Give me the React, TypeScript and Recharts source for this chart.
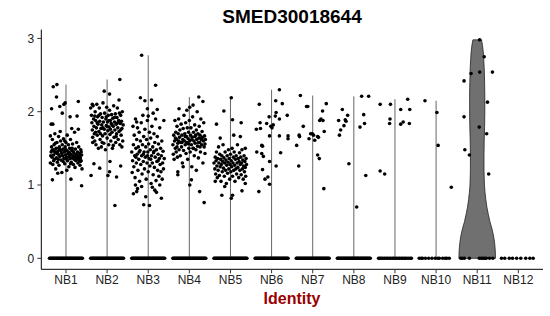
import React from 'react';
import { ScatterChart, Scatter, XAxis, YAxis } from 'recharts';

const categories = ['NB1', 'NB2', 'NB3', 'NB4', 'NB5', 'NB6', 'NB7', 'NB8', 'NB9', 'NB10', 'NB11', 'NB12'];
const yTicks = [0, 1, 2, 3];

// non-zero expression values per identity: [jitter offset, value]
const nb1Points: number[][] = [
  [-0.22, 2.37], [-0.31, 2.34], [-0.23, 2.2], [-0.35, 2.04], [-0.05, 2.1], [-0.02, 2.12], [0.3, 2.14], [-0.09, 1.98], [0.27, 1.94], [-0.36, 1.83], [-0.32, 1.83], [0.38, 0.99], [-0.33, 1.07], [0.12, 1.08], [-0.15, 2.07], [0.1, 1.93],
  [-0.38, 1.3], [-0.36, 1.45], [-0.35, 1.52], [-0.34, 1.38], [-0.33, 1.62], [-0.32, 1.28], [-0.31, 1.48], [-0.3, 1.41], [-0.29, 1.55], [-0.28, 1.35], [-0.27, 1.7], [-0.26, 1.44], [-0.25, 1.22], [-0.24, 1.5], [-0.23, 1.37], [-0.22, 1.58], [-0.21, 1.31], [-0.2, 1.46], [-0.19, 1.42], [-0.18, 1.66], [-0.17, 1.27], [-0.16, 1.52], [-0.15, 1.39], [-0.14, 1.48], [-0.13, 1.6], [-0.12, 1.34], [-0.11, 1.44], [-0.1, 1.17], [-0.09, 1.55], [-0.08, 1.4], [-0.07, 1.49], [-0.06, 1.63], [-0.05, 1.36], [-0.04, 1.45], [-0.03, 1.29], [-0.02, 1.52], [-0.01, 1.41], [0.0, 1.58], [0.01, 1.38], [0.02, 1.47], [0.03, 1.68], [0.04, 1.33], [0.05, 1.43], [0.06, 1.55], [0.07, 1.25], [0.08, 1.39], [0.09, 1.5], [0.1, 1.36], [0.11, 1.62], [0.12, 1.42], [0.13, 1.31], [0.14, 1.47], [0.15, 1.37], [0.16, 1.56], [0.17, 1.4], [0.18, 1.28], [0.19, 1.44], [0.2, 1.35], [0.21, 1.72], [0.22, 1.38], [0.23, 1.49], [0.24, 1.33], [0.25, 1.42], [0.26, 1.58], [0.27, 1.36], [0.28, 1.45], [0.29, 1.3], [0.3, 1.39], [0.31, 1.52], [0.32, 1.34], [0.33, 1.43], [0.34, 1.27], [0.35, 1.37], [0.36, 1.48], [0.37, 1.33], [0.38, 1.41], [0.39, 1.22],
  [-0.34, 1.47], [-0.3, 1.33], [-0.26, 1.57], [-0.21, 1.43], [-0.17, 1.5], [-0.12, 1.47], [-0.07, 1.32], [-0.03, 1.6], [0.02, 1.35], [0.06, 1.45], [0.11, 1.29], [0.15, 1.5], [0.19, 1.37], [0.24, 1.41], [0.28, 1.35], [0.33, 1.38], [0.37, 1.45], [-0.37, 1.4], [-0.28, 1.46], [-0.19, 1.35], [-0.1, 1.43], [-0.01, 1.48], [0.08, 1.44], [0.17, 1.46], [0.26, 1.39], [0.35, 1.32], [0.3, 1.76], [-0.14, 1.73], [0.14, 1.77], [-0.38, 1.67], [0.02, 1.2], [-0.2, 1.16], [0.22, 1.24],
];
const nb2Points: number[][] = [
  [0.31, 2.44], [-0.07, 2.28], [0.06, 2.24], [0.29, 2.16], [0.19, 0.72], [-0.39, 1.13], [-0.32, 1.29], [-0.18, 1.23], [0.06, 1.18], [0.23, 1.11], [0.33, 1.26], [0.02, 1.13], [0.07, 1.32],
  [-0.4, 2.05], [-0.38, 1.95], [-0.37, 1.85], [-0.36, 1.75], [-0.35, 1.65], [-0.34, 2.08], [-0.33, 1.9], [-0.32, 1.8], [-0.31, 1.7], [-0.3, 1.6], [-0.29, 2.0], [-0.28, 1.88], [-0.27, 1.55], [-0.26, 1.78], [-0.25, 2.1], [-0.24, 1.68], [-0.23, 1.93], [-0.22, 1.83], [-0.21, 1.5], [-0.2, 1.73], [-0.19, 2.05], [-0.18, 1.87], [-0.17, 1.62], [-0.16, 1.97], [-0.15, 1.77], [-0.14, 1.52], [-0.13, 1.82], [-0.12, 1.92], [-0.11, 1.67], [-0.1, 2.12], [-0.09, 1.86], [-0.08, 1.57], [-0.07, 1.76], [-0.06, 1.98], [-0.05, 1.7], [-0.04, 1.48], [-0.03, 1.9], [-0.02, 1.81], [-0.01, 2.06], [0.0, 1.64], [0.01, 1.86], [0.02, 1.74], [0.03, 1.95], [0.04, 1.55], [0.05, 1.79], [0.06, 2.02], [0.07, 1.69], [0.08, 1.88], [0.09, 1.6], [0.1, 1.84], [0.11, 1.96], [0.12, 1.72], [0.13, 1.5], [0.14, 1.91], [0.15, 1.8], [0.16, 2.08], [0.17, 1.65], [0.18, 1.86], [0.19, 1.75], [0.2, 1.97], [0.21, 1.58], [0.22, 1.83], [0.23, 1.7], [0.24, 1.92], [0.25, 2.05], [0.26, 1.78], [0.27, 1.62], [0.28, 1.88], [0.29, 1.73], [0.3, 1.98], [0.31, 1.55], [0.32, 1.84], [0.33, 1.95], [0.34, 1.68], [0.35, 1.87], [0.36, 1.77], [0.37, 2.0], [0.38, 1.6], [0.39, 1.82],
  [-0.36, 2.1], [-0.3, 1.94], [-0.24, 1.85], [-0.16, 1.7], [-0.1, 1.78], [-0.02, 1.93], [0.05, 1.88], [0.12, 1.82], [0.18, 1.92], [0.26, 1.85], [0.33, 1.75], [-0.28, 1.72], [-0.2, 1.95], [0.0, 1.8], [0.08, 1.76], [0.22, 1.66], [-0.12, 1.58], [0.15, 1.54], [-0.35, 1.58], [0.36, 1.52],
];
const nb3Points: number[][] = [
  [-0.16, 2.77], [0.18, 2.36], [-0.19, 2.19], [0.08, 2.16], [0.22, 2.03], [-0.02, 2.04], [-0.11, 0.73], [0.03, 0.72], [-0.31, 1.0], [-0.28, 0.91], [-0.06, 0.84], [0.16, 0.93], [0.32, 0.82], [0.28, 1.0], [-0.39, 1.17],
  [-0.4, 1.45], [-0.38, 1.33], [-0.37, 1.8], [-0.36, 1.55], [-0.35, 1.25], [-0.34, 1.68], [-0.33, 1.4], [-0.32, 1.1], [-0.31, 1.9], [-0.3, 1.5], [-0.29, 1.3], [-0.28, 1.62], [-0.27, 1.42], [-0.26, 1.78], [-0.25, 1.2], [-0.24, 1.52], [-0.23, 1.35], [-0.22, 1.72], [-0.21, 1.05], [-0.2, 1.47], [-0.19, 1.6], [-0.18, 1.28], [-0.17, 1.85], [-0.16, 1.4], [-0.15, 1.15], [-0.14, 1.55], [-0.13, 1.95], [-0.12, 1.32], [-0.11, 1.66], [-0.1, 1.45], [-0.09, 1.22], [-0.08, 1.76], [-0.07, 1.38], [-0.06, 1.52], [-0.05, 1.08], [-0.04, 1.62], [-0.03, 1.3], [-0.02, 1.88], [-0.01, 1.45], [0.0, 1.18], [0.01, 1.56], [0.02, 1.36], [0.03, 1.72], [0.04, 1.26], [0.05, 1.48], [0.06, 1.64], [0.07, 1.02], [0.08, 1.4], [0.09, 1.8], [0.1, 1.3], [0.11, 1.52], [0.12, 1.14], [0.13, 1.44], [0.14, 1.7], [0.15, 1.24], [0.16, 1.58], [0.17, 1.38], [0.18, 1.9], [0.19, 1.06], [0.2, 1.48], [0.21, 1.32], [0.22, 1.66], [0.23, 1.2], [0.24, 1.42], [0.25, 1.56], [0.26, 1.12], [0.27, 1.36], [0.28, 1.78], [0.29, 1.28], [0.3, 1.5], [0.31, 1.18], [0.32, 1.4], [0.33, 1.6], [0.34, 1.08], [0.35, 1.3], [0.36, 1.46], [0.37, 1.22], [0.38, 1.88], [0.39, 1.36],
  [-0.3, 1.38], [-0.22, 1.45], [-0.12, 1.42], [-0.02, 1.4], [0.06, 1.35], [0.14, 1.46], [0.24, 1.33], [-0.26, 0.95], [0.2, 0.9], [0.1, 0.97], [-0.16, 0.98], [-0.36, 0.88], [0.0, 1.94], [-0.08, 2.15], [0.12, 1.98], [-0.28, 1.86],
];
const nb4Points: number[][] = [
  [0.36, 0.76], [0.25, 0.91], [0.01, 1.0], [-0.28, 1.14], [-0.28, 1.18], [0.05, 1.07], [0.23, 2.2], [0.33, 2.14], [0.01, 2.06], [0.09, 2.09], [-0.25, 2.04],
  [-0.4, 1.55], [-0.39, 1.42], [-0.38, 1.68], [-0.37, 1.35], [-0.36, 1.6], [-0.35, 1.88], [-0.34, 1.5], [-0.33, 1.72], [-0.32, 1.45], [-0.31, 1.62], [-0.3, 1.8], [-0.29, 1.38], [-0.28, 1.57], [-0.27, 1.7], [-0.26, 1.9], [-0.25, 1.48], [-0.24, 1.65], [-0.23, 1.75], [-0.22, 1.4], [-0.21, 1.58], [-0.2, 1.83], [-0.19, 1.52], [-0.18, 1.68], [-0.17, 1.3], [-0.16, 1.62], [-0.15, 1.77], [-0.14, 1.47], [-0.13, 1.95], [-0.12, 1.6], [-0.11, 1.7], [-0.1, 1.55], [-0.09, 1.85], [-0.08, 1.43], [-0.07, 1.66], [-0.06, 1.58], [-0.05, 1.78], [-0.04, 1.35], [-0.03, 1.63], [-0.02, 1.72], [-0.01, 1.5], [0.0, 1.88], [0.01, 1.6], [0.02, 1.45], [0.03, 1.68], [0.04, 1.78], [0.05, 1.55], [0.06, 1.25], [0.07, 1.65], [0.08, 1.93], [0.09, 1.5], [0.1, 1.72], [0.11, 1.6], [0.12, 1.4], [0.13, 1.82], [0.14, 1.57], [0.15, 1.68], [0.16, 1.48], [0.17, 1.75], [0.18, 1.62], [0.19, 2.0], [0.2, 1.53], [0.21, 1.7], [0.22, 1.37], [0.23, 1.64], [0.24, 1.8], [0.25, 1.58], [0.26, 1.68], [0.27, 1.45], [0.28, 1.9], [0.29, 1.62], [0.3, 1.55], [0.31, 1.73], [0.32, 1.65], [0.33, 1.3], [0.34, 1.6], [0.35, 1.85], [0.36, 1.52], [0.37, 1.67], [0.38, 1.43], [0.39, 1.62],
  [-0.34, 1.64], [-0.26, 1.6], [-0.18, 1.58], [-0.1, 1.66], [-0.02, 1.56], [0.06, 1.62], [0.14, 1.66], [0.22, 1.58], [0.3, 1.64], [0.38, 1.56], [-0.3, 1.52], [0.1, 1.5], [0.26, 1.52], [-0.06, 2.02], [0.17, 1.2], [-0.15, 1.25],
];
const nb5Points: number[][] = [
  [0.02, 2.19], [-0.16, 2.01], [-0.34, 1.83], [0.26, 1.85], [0.05, 1.89], [0.24, 1.66], [-0.25, 1.64], [0.08, 1.68], [0.36, 1.5], [-0.37, 1.05], [-0.21, 0.86], [0.02, 0.82], [0.05, 0.86], [0.28, 0.92], [0.36, 1.02], [-0.14, 0.98],
  [-0.4, 1.3], [-0.38, 1.22], [-0.37, 1.38], [-0.36, 1.15], [-0.35, 1.33], [-0.34, 1.45], [-0.33, 1.26], [-0.32, 1.1], [-0.31, 1.36], [-0.3, 1.2], [-0.29, 1.52], [-0.28, 1.3], [-0.27, 1.13], [-0.26, 1.42], [-0.25, 1.25], [-0.24, 1.35], [-0.23, 1.05], [-0.22, 1.28], [-0.21, 1.4], [-0.2, 1.18], [-0.19, 1.32], [-0.18, 1.55], [-0.17, 1.23], [-0.16, 1.37], [-0.15, 1.12], [-0.14, 1.3], [-0.13, 1.45], [-0.12, 1.2], [-0.11, 1.34], [-0.1, 1.02], [-0.09, 1.27], [-0.08, 1.4], [-0.07, 1.16], [-0.06, 1.31], [-0.05, 1.48], [-0.04, 1.22], [-0.03, 1.36], [-0.02, 1.08], [-0.01, 1.28], [0.0, 1.42], [0.01, 1.18], [0.02, 1.33], [0.03, 1.25], [0.04, 1.5], [0.05, 1.12], [0.06, 1.3], [0.07, 1.38], [0.08, 1.2], [0.09, 1.45], [0.1, 1.27], [0.11, 1.05], [0.12, 1.35], [0.13, 1.22], [0.14, 1.4], [0.15, 1.15], [0.16, 1.3], [0.17, 1.55], [0.18, 1.24], [0.19, 1.36], [0.2, 1.1], [0.21, 1.32], [0.22, 1.44], [0.23, 1.2], [0.24, 1.28], [0.25, 1.38], [0.26, 1.14], [0.27, 1.3], [0.28, 1.48], [0.29, 1.22], [0.3, 1.34], [0.31, 1.08], [0.32, 1.26], [0.33, 1.4], [0.34, 1.18], [0.35, 1.32], [0.36, 1.24], [0.37, 1.12], [0.38, 1.36], [0.39, 1.28],
];
const nb6Points: number[][] = [
  [-0.3, 2.1], [0.19, 2.3], [0.1, 2.15], [0.26, 2.11], [-0.37, 1.76], [-0.28, 1.85], [-0.27, 1.77], [-0.12, 1.84], [-0.02, 1.8], [0.04, 1.82], [0.01, 1.78], [0.11, 1.99], [0.09, 1.94], [-0.06, 1.93], [0.38, 1.95], [0.19, 1.9], [-0.05, 1.67], [0.19, 1.67], [0.4, 1.67], [0.4, 1.63], [-0.24, 1.54], [-0.22, 1.53], [-0.36, 1.45], [-0.2, 1.39], [-0.24, 1.43], [0.22, 1.44], [-0.05, 1.32], [0.11, 1.26], [-0.22, 1.21], [-0.09, 1.11], [-0.16, 1.08], [-0.05, 1.01], [-0.31, 0.91],
];
const nb7Points: number[][] = [
  [-0.3, 2.22], [-0.15, 2.07], [-0.12, 2.07], [0.33, 2.11], [0.24, 2.01], [0.2, 1.9], [0.17, 1.88], [0.25, 1.88], [-0.23, 1.8], [-0.32, 1.66], [-0.33, 1.68], [-0.01, 1.7], [0.02, 1.68], [-0.05, 1.7], [0.28, 1.73], [0.12, 1.66], [0.14, 1.65], [0.05, 1.61], [-0.09, 1.63], [-0.39, 1.54], [-0.34, 1.26], [0.12, 1.41], [0.16, 1.36], [0.27, 0.95],
];
const nb8Points: number[][] = [
  [-0.28, 2.03], [-0.37, 1.88], [-0.21, 1.89], [-0.19, 1.87], [-0.15, 1.95], [-0.32, 1.75], [-0.35, 1.68], [-0.24, 1.81], [-0.12, 1.29], [0.15, 1.79], [0.24, 1.96], [0.26, 1.84], [0.19, 2.21], [0.36, 2.21], [0.29, 1.13], [0.07, 0.7],
];
const nb9Points: number[][] = [
  [-0.36, 2.1], [-0.11, 2.1], [0.14, 2.03], [0.36, 2.03], [0.31, 2.17], [-0.12, 1.9], [-0.13, 1.84], [0.14, 1.83], [0.2, 1.86], [0.35, 1.84], [-0.36, 1.19], [-0.25, 1.15],
];
const nb10Points: number[][] = [[-0.27, 2.15], [0.02, 1.99], [0.05, 1.54], [0.37, 0.97]];
const nb11Points: number[][] = [
  [0.06, 2.98], [0.17, 2.75], [-0.15, 2.52], [0.06, 2.54], [0.37, 2.54], [-0.32, 2.42], [0.25, 2.13], [-0.32, 1.93], [0.05, 1.79], [0.23, 1.7], [-0.3, 1.48], [-0.19, 1.41], [0.28, 1.15],
];
const nb12Points: number[][] = [];

// jitter offsets of the cells with zero expression
const zeroDense = [-0.4, -0.38, -0.36, -0.34, -0.32, -0.3, -0.28, -0.26, -0.24, -0.22, -0.2, -0.18, -0.16, -0.14, -0.12, -0.1, -0.08, -0.06, -0.04, -0.02, 0.0, 0.02, 0.04, 0.06, 0.08, 0.1, 0.12, 0.14, 0.16, 0.18, 0.2, 0.22, 0.24, 0.26, 0.28, 0.3, 0.32, 0.34, 0.36, 0.38, 0.4];
const nb9Zeros = [-0.4, -0.37, -0.34, -0.31, -0.27, -0.24, -0.2, -0.17, -0.13, -0.1, -0.06, -0.03, 0.01, 0.04, 0.08, 0.11, 0.15, 0.18, 0.22, 0.25, 0.29, 0.33, 0.37, 0.4];
const nb10Zeros = [-0.41, -0.36, -0.33, -0.26, -0.18, -0.1, -0.02, 0.04, 0.08, 0.16, 0.22, 0.26, 0.32];
const nb11Zeros = [-0.4, -0.36, -0.31, -0.19, 0.05, 0.1, 0.14, 0.18, 0.22, 0.3, 0.38];
const nb12Zeros = [-0.41, -0.33, -0.22, -0.14, -0.04, 0.06, 0.18, 0.28, 0.36];

// NB11 violin density profile: value -> half width (category units)
const violinY = [0, 0.1, 0.2, 0.3, 0.4, 0.5, 0.6, 0.7, 0.8, 0.9, 1.0, 1.2, 1.4, 1.6, 1.8, 2.0, 2.2, 2.4, 2.6, 2.8, 2.9, 2.98];
const violinHalfWidth = [0.445, 0.44, 0.425, 0.4, 0.36, 0.31, 0.27, 0.235, 0.21, 0.19, 0.175, 0.165, 0.165, 0.17, 0.18, 0.185, 0.185, 0.18, 0.17, 0.15, 0.13, 0.105];

const groupPoints = [nb1Points, nb2Points, nb3Points, nb4Points, nb5Points, nb6Points, nb7Points, nb8Points, nb9Points, nb10Points, nb11Points, nb12Points];
const groupZeros = [zeroDense, zeroDense, zeroDense, zeroDense, zeroDense, zeroDense, zeroDense, zeroDense, nb9Zeros, nb10Zeros, nb11Zeros, nb12Zeros];

const pointData: { x: number; y: number }[] = [];
groupZeros.forEach((offs, i) => offs.forEach((dx) => pointData.push({ x: i + 1 + dx, y: 0 })));
groupPoints.forEach((pts, i) => pts.forEach(([dx, y]) => pointData.push({ x: i + 1 + dx, y })));

const thinViolins = groupPoints
  .map((pts, i) => ({ i, max: pts.length ? Math.max(...pts.map((p) => p[1])) : 0 }))
  .filter((g) => g.i !== 10 && g.max > 0)
  .map((g) => [{ x: g.i + 1, y: 0 }, { x: g.i + 1, y: g.max }]);

const right = violinY.map((y, k) => ({ x: 11 + violinHalfWidth[k], y }));
const left = violinY.map((y, k) => ({ x: 11 - violinHalfWidth[k], y })).reverse();
const violinPoly = [...right, ...left, right[0]];

const FONT = '"Liberation Sans", Arial, Helvetica, sans-serif';
const Empty = () => <g />;
const Dot = (p: any) => <circle cx={p.cx} cy={p.cy} r={1.8} fill="#000" />;

export default function App() {
  return (
    <div style={{ position: 'absolute', left: 0, top: 0, width: 550, height: 316, background: '#fff' }}>
      <ScatterChart width={550} height={316} margin={{ top: 29.6, right: 7, bottom: 0, left: 0 }}>
        <XAxis
          type="number"
          dataKey="x"
          domain={[0.4, 12.6]}
          ticks={[1, 2, 3, 4, 5, 6, 7, 8, 9, 10, 11, 12]}
          interval={0}
          allowDataOverflow
          tickFormatter={(v: number) => categories[Math.round(v) - 1]}
          height={46.7}
          tickSize={4}
          tickMargin={2}
          axisLine={{ stroke: '#000', strokeWidth: 1 }}
          tickLine={{ stroke: '#333' }}
          tick={{ fill: '#222', fontSize: 12, fontFamily: FONT }}
        />
        <YAxis
          type="number"
          dataKey="y"
          domain={[-0.15, 3.12]}
          ticks={yTicks}
          interval={0}
          allowDataOverflow
          width={41.3}
          tickSize={4}
          tickMargin={3}
          axisLine={{ stroke: '#000', strokeWidth: 1 }}
          tickLine={{ stroke: '#333' }}
          tick={{ fill: '#222', fontSize: 12, fontFamily: FONT }}
        />
        {thinViolins.map((d, k) => (
          <Scatter key={'v' + k} data={d} shape={Empty} line={{ stroke: '#555', strokeWidth: 0.9 }} isAnimationActive={false} />
        ))}
        <Scatter data={violinPoly} shape={Empty} line={{ fill: '#707070', stroke: '#222', strokeWidth: 0.8 }} isAnimationActive={false} />
        <Scatter data={pointData} shape={Dot} isAnimationActive={false} />
      </ScatterChart>
      <svg width={550} height={316} style={{ position: 'absolute', left: 0, top: 0, pointerEvents: 'none' }}>
        <text x={292} y={23} textAnchor="middle" fontFamily={FONT} fontWeight="bold" fontSize={19} fill="#000">SMED30018644</text>
        <text x={292} y={304} textAnchor="middle" fontFamily={FONT} fontWeight="bold" fontSize={16} fill="#990000">Identity</text>
      </svg>
    </div>
  );
}
